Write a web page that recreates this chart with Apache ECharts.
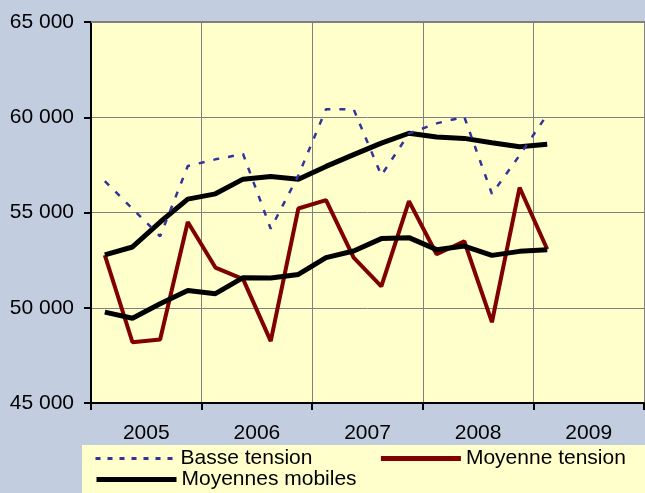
<!DOCTYPE html>
<html>
<head>
<meta charset="utf-8">
<script src="https://cdn.jsdelivr.net/npm/echarts@6/dist/echarts.min.js"></script>
<style>
  html, body { margin: 0; padding: 0; background: #c3cde0; }
  #chart { width: 645px; height: 493px; }
</style>
</head>
<body>
<div id="chart"></div>
<script>
// years on the axis, quarters used for the points
const years = ['2005', '2006', '2007', '2008', '2009'];
const quarters = [];
years.forEach(y => { ['T1', 'T2', 'T3', 'T4'].forEach(q => quarters.push(y + ' ' + q)); });

const basseTension = [56650, 55200, 53750, 57440, 57790, 58070, 54150, 56950,
  60420, 60420, 56950, 59150, 59680, 60020, 55980, 58000, 60140];
const moyenneTension = [52760, 48190, 48330, 54500, 52110, 51500, 48250, 55210,
  55650, 52630, 51120, 55600, 52810, 53490, 49240, 56310, 53070];
const moyenneMobileHaute = [52780, 53190, 54500, 55700, 55980, 56750, 56890, 56750,
  57420, 58040, 58640, 59160, 58960, 58890, 58660, 58450, 58580];
const moyenneMobileBasse = [49770, 49450, 50210, 50910, 50740, 51580, 51560, 51750,
  52630, 52980, 53630, 53680, 53050, 53240, 52750, 52960, 53050];

const yTicks = { min: 45000, max: 65000, interval: 5000 };

const font = 'Liberation Sans, Arial, sans-serif';

let chart = echarts.init(document.getElementById('chart'));

// legend: line only, no symbol in the middle
const noSymbol = { color: 'transparent', borderWidth: 0 };

let option = {
  backgroundColor: '#c3cde0',
  animation: false,
  textStyle: { fontFamily: font },
  graphic: [{
    type: 'rect',
    shape: { x: 82, y: 445, width: 563, height: 48 },
    style: { fill: '#ffffcc' },
    z: -1
  }, {
    type: 'line',
    shape: { x1: 91, y1: 22, x2: 645, y2: 22 },
    style: { stroke: '#808080', lineWidth: 2 },
    z: 1
  }],
  grid: {
    left: 91,
    right: 1,
    top: 22,
    bottom: 90,
    show: true,
    backgroundColor: '#ffffcc',
    borderWidth: 0
  },
  legend: [{
    left: 94,
    top: 448,
    padding: 0,
    itemWidth: 80,
    itemHeight: 14,
    itemGap: 66,
    itemStyle: noSymbol,
    textStyle: { fontSize: 21, color: '#000', fontFamily: font },
    data: [
      { name: 'Basse tension', lineStyle: { width: 3, type: [5, 7] } },
      { name: 'Moyenne tension', lineStyle: { width: 5 } }
    ]
  }, {
    left: 94,
    top: 469,
    padding: 0,
    itemWidth: 80,
    itemHeight: 14,
    itemStyle: noSymbol,
    textStyle: { fontSize: 21, color: '#000', fontFamily: font },
    data: [{ name: 'Moyennes mobiles', lineStyle: { width: 5 } }]
  }],
  xAxis: [{
    type: 'category',
    data: years,
    boundaryGap: true,
    axisLine: { lineStyle: { color: '#000', width: 2 } },
    axisTick: { show: true, length: 7, lineStyle: { color: '#000', width: 2 } },
    axisLabel: { fontSize: 21, color: '#000', margin: 20, fontFamily: font },
    splitLine: { show: true, lineStyle: { color: '#808080', width: 1 } }
  }, {
    type: 'category',
    data: quarters,
    boundaryGap: true,
    show: false
  }],
  yAxis: {
    type: 'value',
    min: yTicks.min,
    max: yTicks.max,
    interval: yTicks.interval,
    axisLine: { show: true, lineStyle: { color: '#000', width: 2 } },
    axisTick: { show: true, length: 7, lineStyle: { color: '#000', width: 2 } },
    axisLabel: {
      fontSize: 21,
      color: '#000',
      margin: 17,
      fontFamily: font,
      formatter: v => String(v).replace(/\B(?=(\d{3})+(?!\d))/g, ' ')
    },
    splitLine: { show: true, lineStyle: { color: '#808080', width: 1 } }
  },
  series: [{
    name: 'Moyenne tension',
    type: 'line',
    xAxisIndex: 1,
    symbol: 'none',
    data: moyenneTension,
    lineStyle: { color: '#800000', width: 4 },
    itemStyle: { color: '#800000' }
  }, {
    name: 'Moyennes mobiles',
    type: 'line',
    xAxisIndex: 1,
    symbol: 'none',
    data: moyenneMobileHaute,
    lineStyle: { color: '#000', width: 5 },
    itemStyle: { color: '#000' }
  }, {
    name: 'Moyennes mobiles',
    type: 'line',
    xAxisIndex: 1,
    symbol: 'none',
    data: moyenneMobileBasse,
    lineStyle: { color: '#000', width: 5 },
    itemStyle: { color: '#000' }
  }, {
    name: 'Basse tension',
    type: 'line',
    xAxisIndex: 1,
    symbol: 'none',
    data: basseTension,
    lineStyle: { color: '#333399', width: 2.5, type: [6, 9] },
    itemStyle: { color: '#333399' }
  }]
};

chart.setOption(option);
</script>
</body>
</html>
